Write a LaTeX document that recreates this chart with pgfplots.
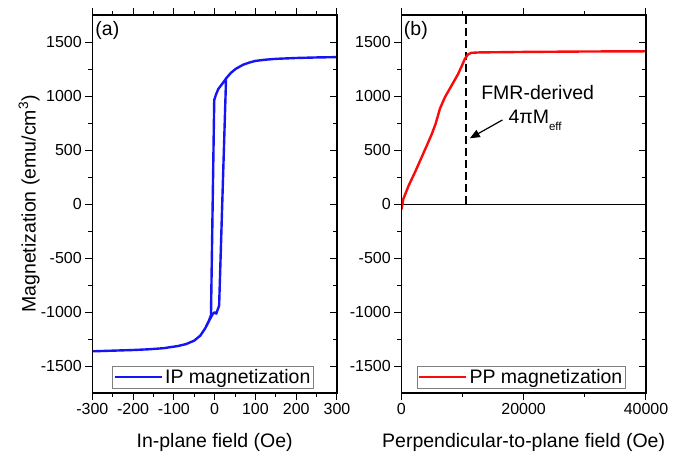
\documentclass[border=0pt]{standalone}
\usepackage{fontspec}
\setmainfont{Liberation Sans}
\usepackage{pgfplots}
\pgfplotsset{compat=1.18}
\usetikzlibrary{arrows.meta}
\begin{document}
\begin{tikzpicture}
\path[use as bounding box] (0pt,0pt) rectangle (673pt,459pt);
\pgfplotsset{
  common/.style={
    scale only axis, width=244.7pt, height=378pt,
    axis line style={line width=1.1pt},
    every tick/.style={black, line width=1pt},
    major tick length=7pt, minor tick length=4pt,
    tick align=outside,
    ymin=-1750, ymax=1750, ytick={-1500,-1000,...,1500}, minor y tick num=1,
    tick label style={font=\fontsize{16}{19}\selectfont},
    /pgf/number format/assume math mode=true,
    /pgf/number format/1000 sep={},
    scaled ticks=false,
    label style={font=\fontsize{19.5}{23}\selectfont},
    ytick pos=left, xtick pos=both,
    ylabel style={at={(axis description cs:-0.232,0.5)}, anchor=base},
    xlabel style={at={(axis description cs:0.5,-0.144)}, anchor=base},
    legend style={draw=gray, line width=0.8pt, fill=white,
      font=\fontsize{19.5}{23}\selectfont, inner sep=1pt,
      nodes={inner sep=2pt}},
    legend image code/.code={\draw[##1, line width=2.4pt] (0pt,0pt) -- (47pt,0pt);},
  },
  rightticks/.style={
    scale only axis, width=244.7pt, height=378pt,
    axis line style={line width=1.1pt},
    every tick/.style={black, line width=1pt},
    major tick length=7pt, minor tick length=4pt,
    tick align=inside, ytick pos=right, xtick=\empty,
    ymin=-1750, ymax=1750, ytick={-1500,-1000,...,1500}, minor y tick num=1,
    yticklabels={},
  },
}
% ---------------- panel (a)
\begin{axis}[common, at={(92.3pt,66pt)}, anchor=south west,
  xmin=-300, xmax=300, xtick={-300,-200,...,300}, minor x tick num=1,
  xlabel={In-plane field (Oe)},
  ylabel={Magnetization (emu/cm\textsuperscript{3})},
  legend style={at={(axis description cs:0.082,0.0124)}, anchor=south west},
]
\addplot[color={rgb,255:red,20;green,20;blue,245}, line width=2.4pt, line join=round] coordinates {
(300,1360) (250,1357) (200,1352) (150,1344) (124,1336) (100,1325) (87,1312)
(70,1290) (52,1252) (40,1215) (29,1167) (20,1120) (13,1085) (9,1065) (4,1020) (-1,963)
(-9,-1030) (-14,-1080) (-23,-1150) (-35,-1218) (-50,-1265) (-70,-1297) (-90,-1315)
(-125,-1335) (-160,-1345) (-200,-1352) (-250,-1358) (-300,-1364)
(-250,-1358) (-200,-1352) (-160,-1345) (-125,-1335) (-90,-1315) (-70,-1297) (-50,-1265)
(-35,-1218) (-23,-1150) (-12,-1070) (-5,-1020) (0,-1002) (4,-1015) (11,-940)
(28,1163) (40,1215) (52,1252) (70,1290) (87,1312) (100,1325) (124,1336) (150,1344)
(200,1352) (250,1357) (300,1360)
};
\addlegendentry{IP magnetization}
\node[anchor=base west, inner sep=0, font=\fontsize{19.5}{23}\selectfont] at (axis description cs:0.012,0.947) {(a)};
\end{axis}
\begin{axis}[rightticks, at={(92.3pt,66pt)}, anchor=south west, xmin=-300, xmax=300]
\end{axis}
% ---------------- panel (b)
\begin{axis}[common, at={(401.3pt,66pt)}, anchor=south west,
  xmin=0, xmax=40000, xtick={0,20000,40000}, minor x tick num=1,
  xlabel={Perpendicular-to-plane field (Oe)},
  legend style={at={(axis description cs:0.063,0.0124)}, anchor=south west},
]
\addplot[black, line width=1pt, forget plot] coordinates {(0,0) (40000,0)};
\addplot[black, line width=1.5pt, dash pattern=on 8pt off 4pt, forget plot] coordinates {(10550,0) (10550,1750)};
\addplot[color={rgb,255:red,250;green,10;blue,10}, line width=2.4pt, line join=round] coordinates {
(0,-50) (65,-40) (330,46) (1200,170) (2230,293) (3300,430) (4400,571) (5000,650) (5600,741)
(5950,810) (6300,880) (7120,988) (8200,1095) (9290,1204) (9900,1280) (10380,1343)
(10900,1385) (11470,1400) (13000,1404) (15270,1405) (20000,1408) (25000,1410)
(30000,1412) (35000,1413) (40000,1414)
};
\addlegendentry{PP magnetization}
\draw[-{Triangle[length=10pt,width=8pt]}, line width=1.2pt] (axis cs:16530,778) -- (axis cs:11200,608);
\node[anchor=base west, inner sep=0, font=\fontsize{19.5}{23}\selectfont] at (axis cs:13050,963) {FMR-derived};
\node[anchor=base west, inner sep=0, font=\fontsize{19.5}{23}\selectfont] at (axis cs:17500,747) {4πM\raisebox{-7pt}{\fontsize{11.5}{12}\selectfont eff}};
\node[anchor=base west, inner sep=0, font=\fontsize{19.5}{23}\selectfont] at (axis description cs:0.010,0.947) {(b)};
\end{axis}
\begin{axis}[rightticks, at={(401.3pt,66pt)}, anchor=south west, xmin=0, xmax=40000]
\end{axis}
\end{tikzpicture}
\end{document}
